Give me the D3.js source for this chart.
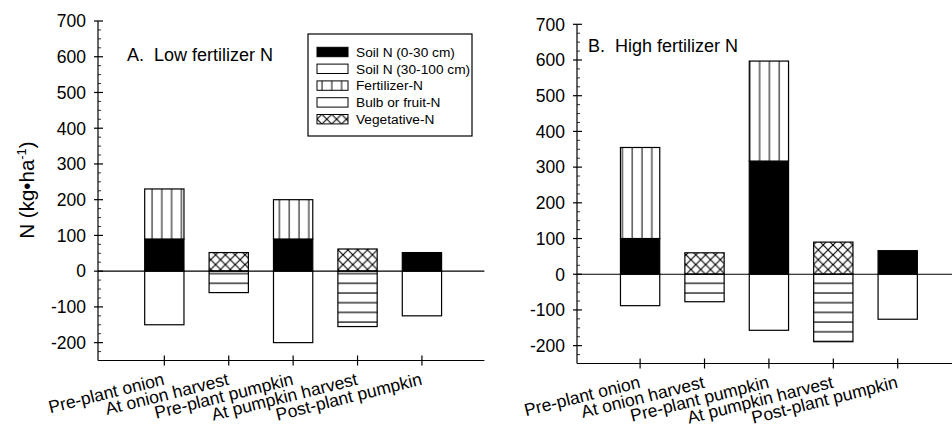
<!DOCTYPE html>
<html>
<head>
<meta charset="utf-8">
<script src="https://cdn.jsdelivr.net/npm/d3@7"></script>
<style>
  body { margin: 0; background: #fff; }
  text { font-family: "Liberation Sans", Arial, sans-serif; fill: #000; }
</style>
</head>
<body>
<div class="chart"></div>
<script>
// categories
const categories = ["Pre-plant onion", "At onion harvest", "Pre-plant pumpkin", "At pumpkin harvest", "Post-plant pumpkin"];
const yTicks = [-200, -100, 0, 100, 200, 300, 400, 500, 600, 700];

// A. low fertilizer N
const soilTopA = [90, 0, 90, 0, 52];
const fertA = [140, 0, 110, 0, 0];
const vegA = [0, 52, 0, 62, 0];
const soilDeepA = [-150, 0, -200, 0, -125];
const bulbA = [0, -60, 0, -155, 0];

// B. high fertilizer N
const soilTopB = [100, 0, 317, 0, 66];
const fertB = [255, 0, 280, 0, 0];
const vegB = [0, 60, 0, 90, 0];
const soilDeepB = [-88, 0, -157, 0, -126];
const bulbB = [0, -77, 0, -189, 0];

const legendItems = ["Soil N (0-30 cm)", "Soil N (30-100 cm)", "Fertilizer-N", "Bulb or fruit-N", "Vegetative-N"];

const W = 952, H = 429;
const svg = d3.select(".chart").append("svg").attr("width", W).attr("height", H);

// ---- PATTERNS ----
const defs = svg.append("defs");
let pv = defs.append("pattern").attr("id", "vert").attr("patternUnits", "userSpaceOnUse")
  .attr("width", 9.8).attr("height", 10);
pv.append("rect").attr("width", 9.8).attr("height", 10).attr("fill", "#fff");
pv.append("line").attr("x1", 5).attr("x2", 5).attr("y1", 0).attr("y2", 10).attr("stroke", "#000").attr("stroke-width", 1);

let ph = defs.append("pattern").attr("id", "horiz").attr("patternUnits", "userSpaceOnUse")
  .attr("width", 10).attr("height", 9.7);
ph.append("rect").attr("width", 10).attr("height", 9.7).attr("fill", "#fff");
ph.append("line").attr("x1", 0).attr("x2", 10).attr("y1", 2).attr("y2", 2).attr("stroke", "#000").attr("stroke-width", 1.2);

let pc = defs.append("pattern").attr("id", "cross").attr("patternUnits", "userSpaceOnUse")
  .attr("width", 9.8).attr("height", 9.8);
pc.append("rect").attr("width", 9.8).attr("height", 9.8).attr("fill", "#fff");
pc.append("path").attr("d", "M0,0L9.8,9.8M9.8,0L0,9.8M-1,1L1,-1M8.8,10.8L10.8,8.8")
  .attr("stroke", "#000").attr("stroke-width", 1.1);

const fills = {
  soilTop: "#000",
  soilDeep: "#fff",
  fert: "url(#vert)",
  bulb: "url(#horiz)",
  veg: "url(#cross)"
};

function panel(cfg) {
  const x = d3.scaleLinear().domain([cfg.d0, cfg.d0 + 6]).range([cfg.left, cfg.left + 386.4]);
  const y = d3.scaleLinear().domain([-250, 700]).range([cfg.bottom, cfg.top]);
  const g = svg.append("g");
  const bw = x(0.61) - x(0);

  // stacked segments
  const segs = [];
  categories.forEach((c, i) => {
    let pos = 0, neg = 0;
    [["soilTop", cfg.soilTop], ["fert", cfg.fert], ["veg", cfg.veg]].forEach(([k, arr]) => {
      if (arr[i] > 0) { segs.push({ i, k, y0: pos, y1: pos + arr[i] }); pos += arr[i]; }
    });
    [["soilDeep", cfg.soilDeep], ["bulb", cfg.bulb]].forEach(([k, arr]) => {
      if (arr[i] < 0) { segs.push({ i, k, y0: neg, y1: neg + arr[i] }); neg += arr[i]; }
    });
  });

  g.selectAll(".bar").data(segs).enter().append("rect")
    .attr("class", "bar")
    .attr("x", d => x(d.i + 1) - bw / 2)
    .attr("width", bw)
    .attr("y", d => y(Math.max(d.y0, d.y1)))
    .attr("height", d => Math.abs(y(d.y0) - y(d.y1)))
    .attr("fill", d => fills[d.k])
    .attr("stroke", "#000")
    .attr("stroke-width", 1.2);

  // zero line
  g.append("line").attr("x1", x.range()[0]).attr("x2", x.range()[1])
    .attr("y1", y(0)).attr("y2", y(0)).attr("stroke", "#000").attr("stroke-width", 1.2);

  // y axis
  g.append("line").attr("x1", cfg.left).attr("x2", cfg.left)
    .attr("y1", y(-250)).attr("y2", y(700)).attr("stroke", "#000").attr("stroke-width", 1.2);
  const minor = d3.range(-250, 701, 25).filter(v => v % 100 !== 0);
  g.selectAll(".minor").data(minor).enter().append("line")
    .attr("x1", cfg.left).attr("x2", cfg.left + 3)
    .attr("y1", d => y(d)).attr("y2", d => y(d))
    .attr("stroke", "#000").attr("stroke-width", 0.8);
  g.selectAll(".major").data(yTicks).enter().append("line")
    .attr("x1", cfg.left - 4).attr("x2", cfg.left + 5)
    .attr("y1", d => y(d)).attr("y2", d => y(d))
    .attr("stroke", "#000").attr("stroke-width", 1.2);
  g.selectAll(".ylab").data(yTicks).enter().append("text")
    .attr("x", cfg.left - 12).attr("y", d => y(d)).attr("dy", "0.36em")
    .attr("text-anchor", "end").attr("font-size", 17.5)
    .text(d => d);

  // x axis
  g.append("line").attr("x1", cfg.left).attr("x2", x.range()[1])
    .attr("y1", y(-250)).attr("y2", y(-250)).attr("stroke", "#000").attr("stroke-width", 1.2);
  g.selectAll(".xt").data(categories).enter().append("line")
    .attr("x1", (d, i) => x(i + 1)).attr("x2", (d, i) => x(i + 1))
    .attr("y1", y(-250) - 5).attr("y2", y(-250) + 5)
    .attr("stroke", "#000").attr("stroke-width", 1.2);
  g.selectAll(".xlab").data(categories).enter().append("text")
    .attr("text-anchor", "end").attr("font-size", 17.5)
    .attr("transform", (d, i) => "translate(" + (x(i + 1) + 1) + "," + (y(-250) + 24) + ") rotate(-14)")
    .text(d => d);

  // title
  g.append("text").attr("x", cfg.titleX).attr("y", cfg.titleY)
    .attr("font-size", 18).attr("xml:space", "preserve")
    .style("white-space", "pre")
    .text(cfg.title);
}

panel({ left: 98, top: 21, bottom: 360.5, d0: -0.03, title: "A.  Low fertilizer N", titleX: 127, titleY: 61,
  soilTop: soilTopA, fert: fertA, veg: vegA, soilDeep: soilDeepA, bulb: bulbA });
panel({ left: 577, top: 24.3, bottom: 363.5, d0: 0.02, title: "B.  High fertilizer N", titleX: 588, titleY: 52,
  soilTop: soilTopB, fert: fertB, veg: vegB, soilDeep: soilDeepB, bulb: bulbB });

// y label
const yl = svg.append("text").attr("transform", "translate(34,190) rotate(-90)")
  .attr("text-anchor", "middle").attr("font-size", 20.5);
yl.append("tspan").text("N (kg\u2022ha");
yl.append("tspan").attr("dy", -8).attr("font-size", 13).text("-1");
yl.append("tspan").attr("dy", 8).text(")");

// legend
const lg = svg.append("g");
lg.append("rect").attr("x", 308).attr("y", 34).attr("width", 164).attr("height", 102)
  .attr("fill", "#fff").attr("stroke", "#000").attr("stroke-width", 1.2);
const legendFills = [fills.soilTop, fills.soilDeep, fills.fert, "#fff", fills.veg];
const row = lg.selectAll(".lrow").data(legendItems).enter().append("g")
  .attr("transform", (d, i) => "translate(317," + (52 + i * 16.8) + ")");
row.append("rect").attr("x", 0).attr("y", -4.7).attr("width", 31).attr("height", 9.4)
  .attr("fill", (d, i) => legendFills[i]).attr("stroke", "#000").attr("stroke-width", 1);
row.append("text").attr("x", 39).attr("dy", "0.35em").attr("font-size", 13.7).text(d => d);
</script>
</body>
</html>
